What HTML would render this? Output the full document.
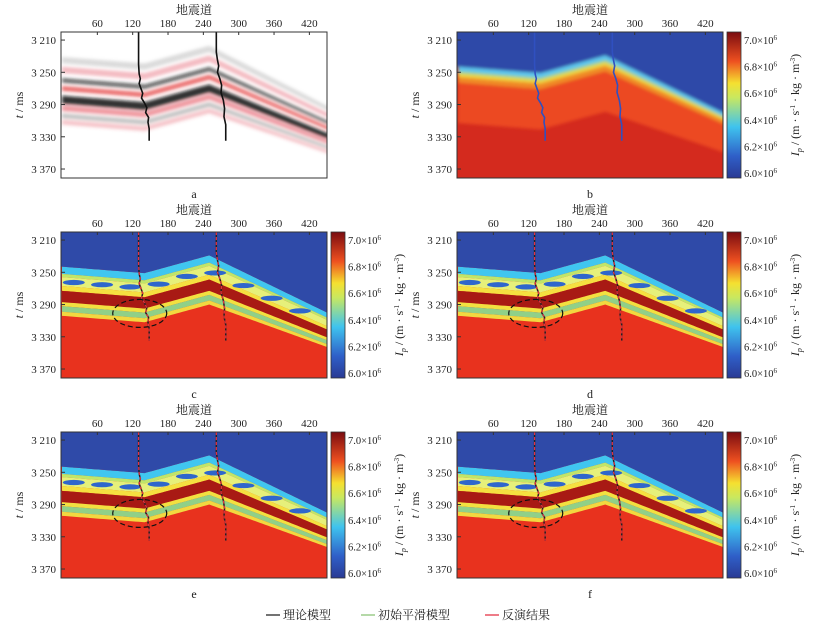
<!DOCTYPE html>
<html><head><meta charset="utf-8">
<style>
body{margin:0;background:#fff;}
svg{display:block;font-family:"Liberation Serif","Noto Serif CJK SC",serif;}
</style></head>
<body>
<svg id="fig" width="813" height="626" viewBox="0 0 813 626" xmlns="http://www.w3.org/2000/svg">
<defs>
<linearGradient id="jet" x1="0" y1="1" x2="0" y2="0">
<stop offset="0" stop-color="#2a3a94"/><stop offset="0.15" stop-color="#2f5fc8"/>
<stop offset="0.35" stop-color="#3fc3ee"/><stop offset="0.55" stop-color="#c8e860"/>
<stop offset="0.65" stop-color="#f5e030"/><stop offset="0.8" stop-color="#ee5020"/>
<stop offset="1" stop-color="#7a0c10"/></linearGradient>
<filter id="blur"><feGaussianBlur stdDeviation="1.6"/></filter>
</defs>
</svg>
<script>
// ---- data ----
const hTraces=[0,140,250,450];
const hTimes=[3243,3251,3229,3300];
const hThick=[1,1,1,0.7];
const xTicks=[60,120,180,240,300,360,420];
const yTicks=[3210,3250,3290,3330,3370];
const cbTicks=[6.0,6.2,6.4,6.6,6.8,7.0];
const well1Traces=[130,130,131,133,131,134,137,135,140,144,142,147,146,148,148];
const well1Times=[3200,3240,3252,3258,3264,3270,3276,3282,3288,3294,3300,3306,3312,3320,3335];
const well2Traces=[262,262,264,266,264,268,271,270,274,276,275,278,278];
const well2Times=[3200,3225,3235,3242,3250,3258,3266,3275,3285,3295,3305,3315,3335];
const invBands=[[0,9,'#40c6f0'],[9,13,'#bfe66a'],[13,24,'#e6f07a'],[24,30,'#f5e040'],[30,44,'#a81a14'],[44,49,'#f2e040'],[49,56,'#90d088'],[56,61,'#f2d840']];
const bBands=[[0,6,'#5cc8f0'],[6,9,'#a8dc80'],[9,13,'#f0d840'],[13,20,'#f08a28'],[20,70,'#ec4a22']];
const aBands=[[-12,-4,'#888',0.3],[0,8,'#e04050',0.35],[14,20,'#222',0.65],[24,30,'#e02020',0.65],[36,46,'#111',0.85],[48,55,'#e03040',0.5],[58,64,'#555',0.35],[66,72,'#e04050',0.3]];
// ---- layout ----
const NS='http://www.w3.org/2000/svg';
const svg=document.getElementById('fig');
const PW=266,PH=146;
function mk(tag,attrs,parent){const e=document.createElementNS(NS,tag);for(const k in attrs)e.setAttribute(k,attrs[k]);(parent||svg).appendChild(e);return e;}
function interp(xs,ys,x){if(x<=xs[0])return ys[0];for(let i=1;i<xs.length;i++){if(x<=xs[i]){const f=(x-xs[i-1])/(xs[i]-xs[i-1]);return ys[i-1]+f*(ys[i]-ys[i-1]);}}return ys[ys.length-1];}
function panel(ox,oy,type,label,cbar){
  const xs=t=>ox+1+t*0.589, ys=v=>oy+(v-3200)*0.806;
  const g=mk('g',{});
  
  
  const cid='clip'+label;
  const cp=mk('clipPath',{id:cid},g);mk('rect',{x:ox,y:oy,width:PW,height:PH},cp);
  const pg=mk('g',{'clip-path':'url(#'+cid+')'},g);
  const bg=type==='a'?'#fff':(type==='b'?'#d42a1e':'#e8321e');
  mk('rect',{x:ox,y:oy,width:PW,height:PH,fill:bg},pg);
  const inner=mk('g',type==='inv'?{}:{filter:'url(#blur)'},pg);
  const bandPath=(o1,o2)=>{let top=[],bot=[];for(let t=0;t<=460;t+=5){const h=interp(hTraces,hTimes,t),k=interp(hTraces,hThick,t);top.push(xs(t)+','+ys(h+o1*k));bot.unshift(xs(t)+','+ys(h+o2*k));}return 'M'+top.join('L')+'L'+bot.join('L')+'Z';};
  const bands=type==='a'?aBands:(type==='b'?bBands:invBands);
  bands.forEach(bd=>{const p=mk('path',{d:bandPath(bd[0],bd[1]),fill:bd[2],'fill-opacity':bd[3]||1},inner);
    });
  if(type!=='a'){
    let bl='M'+xs(-20)+','+(oy-10);for(let t=-20;t<=480;t+=5)bl+='L'+xs(t)+','+ys(interp(hTraces,hTimes,t));bl+='L'+xs(480)+','+(oy-10)+'Z';
    const b=mk('path',{d:bl,fill:'#2f4aa8'},inner);
    
  }
  if(type==='inv'){
    for(let t=20;t<450;t+=48){const h=interp(hTraces,hTimes,t),k=interp(hTraces,hThick,t);
      const e=mk('ellipse',{cx:xs(t),cy:ys(h+18.5*k),rx:11,ry:2.6,fill:'#2f66cc'},pg);
      }
  }
  const wellPath=(tr,tm)=>tr.map((v,i)=>(i?'L':'M')+xs(v)+','+ys(tm[i])).join('');
  [[well1Traces,well1Times],[well2Traces,well2Times]].forEach((w,i)=>{
    const d=wellPath(w[0],w[1]);
    if(type==='a'){const p=mk('path',{d:d,stroke:'#111',fill:'none','stroke-width':1.6},pg);}
    else if(type==='b'){const p=mk('path',{d:d,stroke:'#3050c0',fill:'none','stroke-width':1.6},pg);}
    else{mk('path',{d:d,stroke:'#222',fill:'none','stroke-width':1.5},pg);
      const p=mk('path',{d:d,stroke:'#e83040',fill:'none','stroke-width':1.2,'stroke-dasharray':'3,2'},pg);}
  });
  if(type==='inv'){const e=mk('ellipse',{cx:xs(132),cy:ys(3301),rx:27,ry:14,fill:'none',stroke:'#111','stroke-width':1.2,'stroke-dasharray':'5,3'},pg);
    }
  mk('rect',{x:ox,y:oy,width:PW,height:PH,fill:'none',stroke:'#333','stroke-width':1},g);
  xTicks.forEach(t=>{mk('line',{x1:xs(t),x2:xs(t),y1:oy,y2:oy+3,stroke:'#333'},g);
    const tx=mk('text',{x:xs(t),y:oy-5,'font-size':11,'text-anchor':'middle',fill:'#222'},g);tx.textContent=t;
    });
  yTicks.forEach(t=>{mk('line',{x1:ox,x2:ox+4,y1:ys(t),y2:ys(t),stroke:'#333'},g);
    const tx=mk('text',{x:ox-5,y:ys(t)+4,'font-size':11,'text-anchor':'end',fill:'#222'},g);tx.textContent=String(t).replace(/^(\d)/,'$1 ');
    });
  const xt=mk('text',{x:ox+PW/2,y:oy-18,'font-size':12,'text-anchor':'middle',fill:'#222'},g);xt.textContent='地震道';
  
  const yt=mk('text',{x:0,y:0,'font-size':12,'text-anchor':'middle',fill:'#222',transform:`translate(${ox-38},${oy+73}) rotate(-90)`},g);
  yt.innerHTML='<tspan font-style="italic">t</tspan> / ms';
  
  const lb=mk('text',{x:ox+PW/2,y:oy+PH+20,'font-size':12,'text-anchor':'middle',fill:'#222'},g);lb.textContent=label;
  
  if(cbar){
    const cx=ox+PW+4;
    const cr=mk('rect',{x:cx,y:oy,width:14,height:PH,fill:'url(#jet)',stroke:'#333','stroke-width':0.8},g);
    
    const cy=v=>oy+141-(v-6.0)*133;
    cbTicks.forEach(v=>{const tx=mk('text',{x:cx+17,y:cy(v)+4,'font-size':10.5,fill:'#222'},g);
      tx.innerHTML=v.toFixed(1)+'×10<tspan font-size="7" dy="-4">6</tspan>';
      });
    const ct=mk('text',{x:0,y:0,'font-size':12,'text-anchor':'middle',fill:'#222',transform:`translate(${cx+72},${oy+73}) rotate(-90)`},g);
    ct.innerHTML='<tspan font-style="italic">I</tspan><tspan font-size="8" dy="3" font-style="italic">p</tspan><tspan dy="-3"> / (m · s</tspan><tspan font-size="7" dy="-4">-1</tspan><tspan dy="4"> · kg · m</tspan><tspan font-size="7" dy="-4">-3</tspan><tspan dy="4">)</tspan>';
    
  }
}
panel(61,32,'a','a',false);
panel(457,32,'b','b',true);
panel(61,232,'inv','c',true);
panel(457,232,'inv','d',true);
panel(61,432,'inv','e',true);
panel(457,432,'inv','f',true);
// legend
const leg=[[266,'#444','理论模型'],[361,'#9ccc8a','初始平滑模型'],[485,'#e85060','反演结果']];
leg.forEach(l=>{const g=mk('g',{});
  
  mk('line',{x1:l[0],x2:l[0]+14,y1:615,y2:615,stroke:l[1],'stroke-width':1.5},g);
  const t=mk('text',{x:l[0]+17,y:619,'font-size':12,fill:'#222'},g);t.textContent=l[2];});
</script>
</body></html>
